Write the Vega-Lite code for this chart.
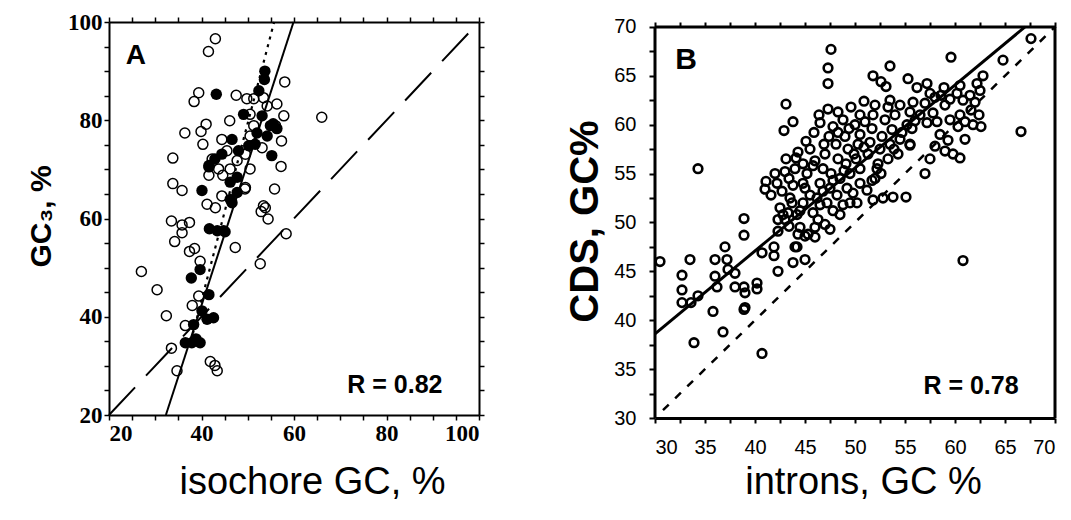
{
  "$schema": "https://vega.github.io/schema/vega-lite/v6.json",
  "background": "white",
  "padding": {"left": 26, "top": 11, "right": 5, "bottom": 5},
  "spacing": 176,
  "bounds": "flush",
  "config": {"view": {"stroke": null}, "axis": {"grid": false, "domainColor": "black", "tickColor": "black", "labelColor": "black", "titleColor": "black", "labelOverlap": false}},
  "datasets": {
    "a_open": [
      {"x":43,"y":96.6},{"x":41.5,"y":94},{"x":39.4,"y":85.6},{"x":38.4,"y":83.8},{"x":47.5,"y":85.1},{"x":49.8,"y":84.4},{"x":58,"y":87.8},{"x":46.1,"y":79.9},{"x":41,"y":79.2},{"x":36.4,"y":77.4},{"x":39.9,"y":77.7},{"x":40.3,"y":75.1},{"x":33.8,"y":72.3},{"x":33.8,"y":67.1},{"x":35.8,"y":65.7},{"x":56.3,"y":83.3},{"x":57.8,"y":80.9},{"x":57.3,"y":75.8},{"x":57.2,"y":70.6},{"x":55.8,"y":66},{"x":47.7,"y":71.8},{"x":49.4,"y":66},{"x":66,"y":80.6},{"x":54.2,"y":82.9},{"x":51.3,"y":84.4},{"x":50.5,"y":81.2},{"x":56,"y":78.9},{"x":44.4,"y":76.1},{"x":44.6,"y":68.8},{"x":42.3,"y":72.1},{"x":41.6,"y":68.8},{"x":50.5,"y":70.1},{"x":49.5,"y":66.3},{"x":44.4,"y":64.6},{"x":41.2,"y":62.9},{"x":53.4,"y":62.6},{"x":49.5,"y":73.1},{"x":50.5,"y":76.8},{"x":53.1,"y":74.4},{"x":46.2,"y":70.1},{"x":51.3,"y":78.9},{"x":53.4,"y":84.6},{"x":45.5,"y":73.8},{"x":43.7,"y":70.1},{"x":43,"y":62.2},{"x":53.8,"y":62.2},{"x":52.9,"y":61.4},{"x":54.4,"y":59.9},{"x":33.5,"y":59.5},{"x":35.8,"y":58.7},{"x":37.4,"y":59.2},{"x":35.8,"y":57.1},{"x":34.2,"y":55.3},{"x":37.4,"y":53.3},{"x":38.5,"y":53.9},{"x":47.3,"y":54.1},{"x":58.3,"y":56.9},{"x":52.7,"y":50.8},{"x":27,"y":49.2},{"x":30.4,"y":45.5},{"x":32.4,"y":40.2},{"x":36.5,"y":38.2},{"x":38,"y":42.3},{"x":39.4,"y":44.2},{"x":39.7,"y":51.3},{"x":33.5,"y":33.6},{"x":34.7,"y":29},{"x":41.9,"y":30.9},{"x":43.4,"y":29},{"x":42.9,"y":30.1}
    ],
    "a_filled": [
      {"x":43.2,"y":85.3},{"x":53.7,"y":90},{"x":53.6,"y":88.3},{"x":52.4,"y":86},{"x":49.1,"y":81.2},{"x":53.1,"y":80.9},{"x":54.9,"y":78.9},{"x":54.2,"y":76.8},{"x":52,"y":77.4},{"x":46.6,"y":76.1},{"x":44.4,"y":73.1},{"x":55.2,"y":72.8},{"x":41.6,"y":70.8},{"x":50.2,"y":74.8},{"x":48,"y":73.8},{"x":46.2,"y":67.4},{"x":47.7,"y":68.4},{"x":40.1,"y":65.7},{"x":46.2,"y":63.9},{"x":47.7,"y":65.3},{"x":51.6,"y":75.1},{"x":55.5,"y":79.3},{"x":56.3,"y":78.3},{"x":46.6,"y":63.2},{"x":41.7,"y":57.9},{"x":43.4,"y":57.5},{"x":45.1,"y":57.3},{"x":37.8,"y":47.9},{"x":39.7,"y":49.6},{"x":41.6,"y":44.5},{"x":42.6,"y":39.8},{"x":41.2,"y":39.5},{"x":40.1,"y":41.2},{"x":38.3,"y":38.4},{"x":36.5,"y":34.7},{"x":37.9,"y":34.7},{"x":39.7,"y":34.7},{"x":38.8,"y":35.5},{"x":44.8,"y":57.5},{"x":42.9,"y":72.1},{"x":41.6,"y":70.5}
    ],
    "a_lines": [
      {"x":20,"y":20,"line":"diag"},{"x":100,"y":100,"line":"diag"},
      {"x":32.3,"y":20,"line":"fit"},{"x":59.9,"y":100,"line":"fit"},
      {"x":37.7,"y":35,"line":"dot"},{"x":55.7,"y":100,"line":"dot"}
    ],
    "a_text": [
      {"x":25.8,"y":93,"label":"A","kind":"big"},
      {"x":81.8,"y":26.1,"label":"R = 0.82","kind":"r"}
    ],
    "b_pts": [
      {"x":30.5,"y":46.0},{"x":33.5,"y":46.2},{"x":32.7,"y":44.6},{"x":32.7,"y":43.1},{"x":32.7,"y":41.8},{"x":33.6,"y":41.8},{"x":34.3,"y":42.5},{"x":33.9,"y":37.7},{"x":35.8,"y":40.9},{"x":36.0,"y":46.2},{"x":36.0,"y":44.5},{"x":36.2,"y":43.4},{"x":37.0,"y":47.5},{"x":36.8,"y":38.8},{"x":37.2,"y":46.2},{"x":37.3,"y":45.2},{"x":38.0,"y":44.8},{"x":38.0,"y":43.4},{"x":38.9,"y":50.4},{"x":38.9,"y":48.7},{"x":38.9,"y":41.1},{"x":39.0,"y":41.3},{"x":38.9,"y":43.4},{"x":39.0,"y":42.8},{"x":40.2,"y":43.8},{"x":40.2,"y":43.2},{"x":40.7,"y":36.6},{"x":40.7,"y":46.9},{"x":41.9,"y":47.5},{"x":42.3,"y":45.0},{"x":41.9,"y":46.6},{"x":42.8,"y":50.8},{"x":43.7,"y":52.0},{"x":44.0,"y":47.5},{"x":44.3,"y":48.8},{"x":45.0,"y":46.2},{"x":45.3,"y":48.8},{"x":43.4,"y":49.6},{"x":42.3,"y":49.1},{"x":34.3,"y":55.5},
      {"x":43.1,"y":62.1},{"x":43.8,"y":60.3},{"x":42.9,"y":59.4},{"x":48.3,"y":61.3},
      {"x":41.1,"y":54.2},{"x":41.0,"y":53.4},{"x":42.0,"y":55.0},{"x":41.6,"y":52.8},{"x":42.2,"y":54.0},{"x":43.0,"y":55.2},{"x":42.5,"y":51.5},{"x":43.0,"y":50.3},{"x":43.5,"y":52.5},{"x":43.8,"y":53.8},{"x":44.0,"y":55.5},{"x":44.2,"y":50.8},{"x":44.5,"y":49.5},{"x":44.8,"y":52.0},{"x":45.0,"y":53.5},{"x":45.2,"y":55.0},{"x":46.0,"y":56.3},{"x":45.5,"y":57.5},{"x":45.8,"y":51.0},{"x":46.0,"y":49.5},{"x":46.2,"y":52.5},{"x":46.5,"y":54.0},{"x":46.8,"y":55.5},{"x":47.0,"y":57.0},{"x":47.4,"y":58.8},{"x":47.0,"y":49.8},{"x":47.2,"y":52.0},{"x":47.5,"y":53.5},{"x":47.6,"y":55.0},{"x":48.3,"y":56.5},{"x":48.1,"y":58.0},{"x":48.3,"y":59.2},{"x":48.2,"y":52.8},{"x":48.5,"y":54.5},{"x":49.1,"y":56.0},{"x":49.3,"y":57.5},{"x":49.0,"y":58.8},{"x":50.0,"y":60.0},{"x":49.2,"y":53.5},{"x":49.5,"y":55.0},{"x":50.1,"y":56.5},{"x":50.3,"y":58.0},{"x":50.5,"y":59.0},{"x":50.5,"y":61.0},{"x":50.2,"y":52.0},{"x":50.5,"y":54.0},{"x":50.5,"y":55.5},{"x":51.3,"y":57.0},{"x":51.5,"y":58.2},{"x":51.7,"y":59.6},{"x":51.8,"y":61.0},{"x":51.7,"y":54.3},{"x":52.3,"y":56.0},{"x":52.5,"y":57.5},{"x":52.7,"y":58.8},{"x":53.0,"y":60.5},{"x":53.3,"y":61.8},{"x":52.6,"y":55.0},{"x":53.3,"y":56.5},{"x":53.5,"y":58.0},{"x":53.7,"y":59.5},{"x":54.0,"y":61.0},{"x":54.5,"y":62.0},{"x":54.3,"y":57.0},{"x":54.5,"y":58.5},{"x":55.2,"y":60.0},{"x":55.5,"y":61.3},{"x":55.8,"y":62.3},{"x":55.5,"y":58.0},{"x":55.7,"y":59.6},{"x":56.5,"y":61.0},{"x":57.0,"y":62.2},{"x":57.2,"y":60.2},{"x":57.8,"y":61.2},{"x":58.0,"y":62.8},{"x":58.6,"y":63.0},{"x":59.0,"y":62.0},{"x":59.5,"y":62.6},{"x":60.2,"y":63.2},{"x":60.8,"y":62.5},{"x":61.5,"y":63.0},{"x":62.2,"y":64.2},{"x":62.0,"y":62.3},{"x":62.5,"y":63.5},{"x":61.6,"y":61.5},{"x":62.4,"y":61.0},
      {"x":47.6,"y":67.7},{"x":47.3,"y":65.8},{"x":47.3,"y":64.2},{"x":51.8,"y":65.0},{"x":52.6,"y":64.4},{"x":53.1,"y":63.9},{"x":53.5,"y":66.0},{"x":55.3,"y":64.7},{"x":56.2,"y":63.8},{"x":57.2,"y":64.2},{"x":59.6,"y":66.9},{"x":62.8,"y":65.0},{"x":64.8,"y":66.6},{"x":67.6,"y":68.8},
      {"x":51.8,"y":52.3},{"x":52.8,"y":52.5},{"x":53.8,"y":52.6},{"x":55.1,"y":52.6},{"x":57.0,"y":55.0},{"x":57.5,"y":56.5},{"x":58.0,"y":57.8},{"x":58.5,"y":59.0},{"x":59.0,"y":57.3},{"x":59.3,"y":58.4},{"x":59.8,"y":57.0},{"x":60.3,"y":59.8},{"x":60.5,"y":56.6},{"x":61.0,"y":58.5},{"x":60.5,"y":61.0},{"x":61.8,"y":60.0},{"x":62.6,"y":59.8},{"x":60.8,"y":46.1},{"x":66.6,"y":59.3},{"x":59.5,"y":60.5},{"x":58.2,"y":60.3},{"x":55.5,"y":57.9},{"x":52.0,"y":54.5},
      {"x":44.2,"y":47.5},{"x":45.0,"y":48.6},{"x":46.0,"y":48.5},{"x":47.5,"y":49.3},{"x":48.5,"y":50.8},{"x":49.5,"y":52.0},{"x":43.8,"y":45.9},
      {"x":42.7,"y":53.2},{"x":43.4,"y":54.5},{"x":44.8,"y":56.0},{"x":44.3,"y":57.2},{"x":45.1,"y":58.3},{"x":45.9,"y":59.2},{"x":46.5,"y":60.2},{"x":46.4,"y":61.0},{"x":43.1,"y":56.5},{"x":44.8,"y":54.0},
      {"x":44.5,"y":51.2},{"x":45.5,"y":52.8},{"x":46.5,"y":51.8},{"x":47.8,"y":51.2},{"x":48.8,"y":51.8},{"x":49.8,"y":53.0},{"x":45.8,"y":55.8},{"x":46.8,"y":53.2},{"x":47.8,"y":54.3},{"x":48.9,"y":55.3},{"x":49.9,"y":57.0},{"x":50.9,"y":57.7},{"x":51.0,"y":60.3},{"x":52.0,"y":62.0},{"x":49.6,"y":61.8},{"x":48.8,"y":60.5},{"x":47.8,"y":59.8},{"x":46.9,"y":58.0},{"x":52.2,"y":55.5},{"x":53.9,"y":57.5},{"x":54.7,"y":59.2},{"x":53.5,"y":62.5},{"x":51.2,"y":53.3},{"x":46.3,"y":50.3},{"x":43.3,"y":51.0},{"x":42.3,"y":50.3},{"x":44.1,"y":56.6},{"x":47.3,"y":61.6},{"x":49.4,"y":59.6},{"x":50.9,"y":62.4},{"x":56.0,"y":60.4},{"x":57.5,"y":63.2},{"x":58.9,"y":63.8},{"x":60.5,"y":64.0},{"x":61.0,"y":60.3}
    ],
    "b_lines": [
      {"x":30,"y":38.6,"line":"fit"},{"x":67,"y":70,"line":"fit"},
      {"x":30.8,"y":30.8,"line":"diag"},{"x":70,"y":70,"line":"diag"}
    ],
    "b_frame": [
      {"x":30,"x2":30,"y":30,"y2":70},
      {"x":70,"x2":70,"y":30,"y2":70},
      {"x":30,"x2":70,"y":70,"y2":70}
    ],
    "b_text": [
      {"x":33.1,"y":66.6,"label":"B","kind":"big"},
      {"x":61.6,"y":33.3,"label":"R = 0.78","kind":"r"}
    ]
  },
  "hconcat": [
    {
      "width": 370,
      "height": 393,
      "resolve": {"axis": {"x": "independent", "y": "independent"}},
      "layer": [
        {
          "data": {"name": "a_lines"},
          "transform": [{"filter": "datum.line === 'diag'"}],
          "mark": {"type": "line", "color": "black", "strokeWidth": 2, "strokeDash": [38, 16]},
          "encoding": {
            "x": {"field": "x", "type": "quantitative", "scale": {"domain": [20, 100], "nice": false, "zero": false},
              "axis": {"orient": "bottom", "values": [20,25,30,35,40,45,50,55,60,65,70,75,80,85,90,95,100], "labelExpr": "datum.value % 20 === 0 ? datum.label : ''", "tickSize": 5, "tickWidth": 1.5, "domainWidth": 2, "labelFont": "Liberation Serif", "labelFontWeight": "bold", "labelFontSize": 23, "labelPadding": 2, "title": "isochore GC, %", "titleFont": "Liberation Sans", "titleFontWeight": "normal", "titleFontSize": 38, "titleX": 203, "titleY": 78, "titleAlign": "center", "titleBaseline": "alphabetic"}},
            "y": {"field": "y", "type": "quantitative", "scale": {"domain": [20, 100], "nice": false, "zero": false},
              "axis": {"orient": "left", "values": [20,25,30,35,40,45,50,55,60,65,70,75,80,85,90,95,100], "labelExpr": "datum.value % 20 === 0 ? datum.label : ''", "tickSize": 5, "tickWidth": 1.5, "domainWidth": 2, "labelFont": "Liberation Serif", "labelFontWeight": "bold", "labelFontSize": 23, "labelPadding": 2, "title": "GC₃, %", "titleFont": "Liberation Sans", "titleFontWeight": "bold", "titleFontSize": 30, "titleX": -59, "titleY": 194, "titleAlign": "center", "titleBaseline": "alphabetic", "titleAngle": -90}},
            "order": {"field": "x", "type": "quantitative"}
          }
        },
        {
          "data": {"name": "a_lines"},
          "transform": [{"filter": "datum.line === 'fit'"}],
          "mark": {"type": "line", "color": "black", "strokeWidth": 2},
          "encoding": {
            "x": {"field": "x", "type": "quantitative", "axis": {"orient": "top", "values": [20,25,30,35,40,45,50,55,60,65,70,75,80,85,90,95,100], "labels": false, "tickSize": 5, "tickWidth": 1.5, "domainWidth": 2, "title": null}},
            "y": {"field": "y", "type": "quantitative", "axis": {"orient": "right", "values": [20,25,30,35,40,45,50,55,60,65,70,75,80,85,90,95,100], "labels": false, "tickSize": 5, "tickWidth": 1.5, "domainWidth": 2, "title": null}},
            "order": {"field": "x", "type": "quantitative"}
          }
        },
        {
          "data": {"name": "a_lines"},
          "transform": [{"filter": "datum.line === 'dot'"}],
          "mark": {"type": "line", "color": "black", "strokeWidth": 2.2, "strokeDash": [3, 5]},
          "encoding": {
            "x": {"field": "x", "type": "quantitative", "axis": null},
            "y": {"field": "y", "type": "quantitative", "axis": null},
            "order": {"field": "x", "type": "quantitative"}
          }
        },
        {
          "data": {"name": "a_open"},
          "mark": {"type": "point", "shape": "circle", "filled": false, "color": "black", "strokeWidth": 1.5, "size": 100, "opacity": 1},
          "encoding": {
            "x": {"field": "x", "type": "quantitative", "axis": null},
            "y": {"field": "y", "type": "quantitative", "axis": null}
          }
        },
        {
          "data": {"name": "a_filled"},
          "mark": {"type": "point", "shape": "circle", "filled": true, "color": "black", "size": 130, "opacity": 1},
          "encoding": {
            "x": {"field": "x", "type": "quantitative", "axis": null},
            "y": {"field": "y", "type": "quantitative", "axis": null}
          }
        },
        {
          "data": {"name": "a_text"},
          "transform": [{"filter": "datum.kind === 'big'"}],
          "mark": {"type": "text", "font": "Liberation Sans", "fontWeight": "bold", "fontSize": 28, "color": "black", "align": "center", "baseline": "middle"},
          "encoding": {
            "x": {"field": "x", "type": "quantitative", "axis": null},
            "y": {"field": "y", "type": "quantitative", "axis": null},
            "text": {"field": "label"}
          }
        },
        {
          "data": {"name": "a_text"},
          "transform": [{"filter": "datum.kind === 'r'"}],
          "mark": {"type": "text", "font": "Liberation Sans", "fontWeight": "bold", "fontSize": 25, "color": "black", "align": "center", "baseline": "middle"},
          "encoding": {
            "x": {"field": "x", "type": "quantitative", "axis": null},
            "y": {"field": "y", "type": "quantitative", "axis": null},
            "text": {"field": "label"}
          }
        }
      ]
    },
    {
      "width": 400,
      "height": 396,
      "resolve": {"axis": {"x": "independent", "y": "independent"}},
      "layer": [
        {
          "data": {"name": "b_lines"},
          "transform": [{"filter": "datum.line === 'diag'"}],
          "mark": {"type": "line", "color": "black", "strokeWidth": 2.5, "strokeDash": [8, 9]},
          "encoding": {
            "x": {"field": "x", "type": "quantitative", "scale": {"domain": [30, 70], "nice": false, "zero": false},
              "axis": {"orient": "bottom", "values": [30,32.5,35,37.5,40,42.5,45,47.5,50,52.5,55,57.5,60,62.5,65,67.5,70], "labelExpr": "datum.value % 5 === 0 ? datum.label : ''", "tickSize": 5, "tickWidth": 2, "domainWidth": 3, "labelFont": "Liberation Sans", "labelFontWeight": "normal", "labelFontSize": 20, "labelPadding": 14, "title": "introns, GC %", "titleFont": "Liberation Sans", "titleFontWeight": "normal", "titleFontSize": 38, "titleX": 208, "titleY": 75, "titleAlign": "center", "titleBaseline": "alphabetic"}},
            "y": {"field": "y", "type": "quantitative", "scale": {"domain": [30, 70.5], "nice": false, "zero": false},
              "axis": {"orient": "left", "values": [30,32.5,35,37.5,40,42.5,45,47.5,50,52.5,55,57.5,60,62.5,65,67.5,70], "labelExpr": "datum.value % 5 === 0 ? datum.label : ''", "domain": false, "tickSize": 6, "tickWidth": 2, "labelFont": "Liberation Sans", "labelFontWeight": "normal", "labelFontSize": 20, "labelPadding": 13, "title": "CDS, GC%", "titleFont": "Liberation Sans", "titleFontWeight": "bold", "titleFontSize": 40, "titleX": -58, "titleY": 199, "titleAlign": "center", "titleBaseline": "alphabetic", "titleAngle": -90}},
            "order": {"field": "x", "type": "quantitative"}
          }
        },
        {
          "data": {"name": "b_lines"},
          "transform": [{"filter": "datum.line === 'fit'"}],
          "mark": {"type": "line", "color": "black", "strokeWidth": 3},
          "encoding": {
            "x": {"field": "x", "type": "quantitative", "axis": {"orient": "top", "offset": -5, "values": [30,32.5,35,37.5,40,42.5,45,47.5,50,52.5,55,57.5,60,62.5,65,67.5,70], "labels": false, "domain": false, "tickSize": 5, "tickWidth": 2, "title": null}},
            "y": {"field": "y", "type": "quantitative", "axis": null},
            "order": {"field": "x", "type": "quantitative"}
          }
        },
        {
          "data": {"name": "b_frame"},
          "mark": {"type": "rule", "color": "black", "strokeWidth": 3},
          "encoding": {
            "x": {"field": "x", "type": "quantitative", "axis": null},
            "x2": {"field": "x2"},
            "y": {"field": "y", "type": "quantitative", "axis": null},
            "y2": {"field": "y2"}
          }
        },
        {
          "data": {"name": "b_pts"},
          "mark": {"type": "point", "shape": "circle", "filled": false, "color": "black", "strokeWidth": 2.6, "size": 75, "opacity": 1},
          "encoding": {
            "x": {"field": "x", "type": "quantitative", "axis": null},
            "y": {"field": "y", "type": "quantitative", "axis": null}
          }
        },
        {
          "data": {"name": "b_text"},
          "transform": [{"filter": "datum.kind === 'big'"}],
          "mark": {"type": "text", "font": "Liberation Sans", "fontWeight": "bold", "fontSize": 30, "color": "black", "align": "center", "baseline": "middle"},
          "encoding": {
            "x": {"field": "x", "type": "quantitative", "axis": null},
            "y": {"field": "y", "type": "quantitative", "axis": null},
            "text": {"field": "label"}
          }
        },
        {
          "data": {"name": "b_text"},
          "transform": [{"filter": "datum.kind === 'r'"}],
          "mark": {"type": "text", "font": "Liberation Sans", "fontWeight": "bold", "fontSize": 25, "color": "black", "align": "center", "baseline": "middle"},
          "encoding": {
            "x": {"field": "x", "type": "quantitative", "axis": null},
            "y": {"field": "y", "type": "quantitative", "axis": null},
            "text": {"field": "label"}
          }
        }
      ]
    }
  ]
}
